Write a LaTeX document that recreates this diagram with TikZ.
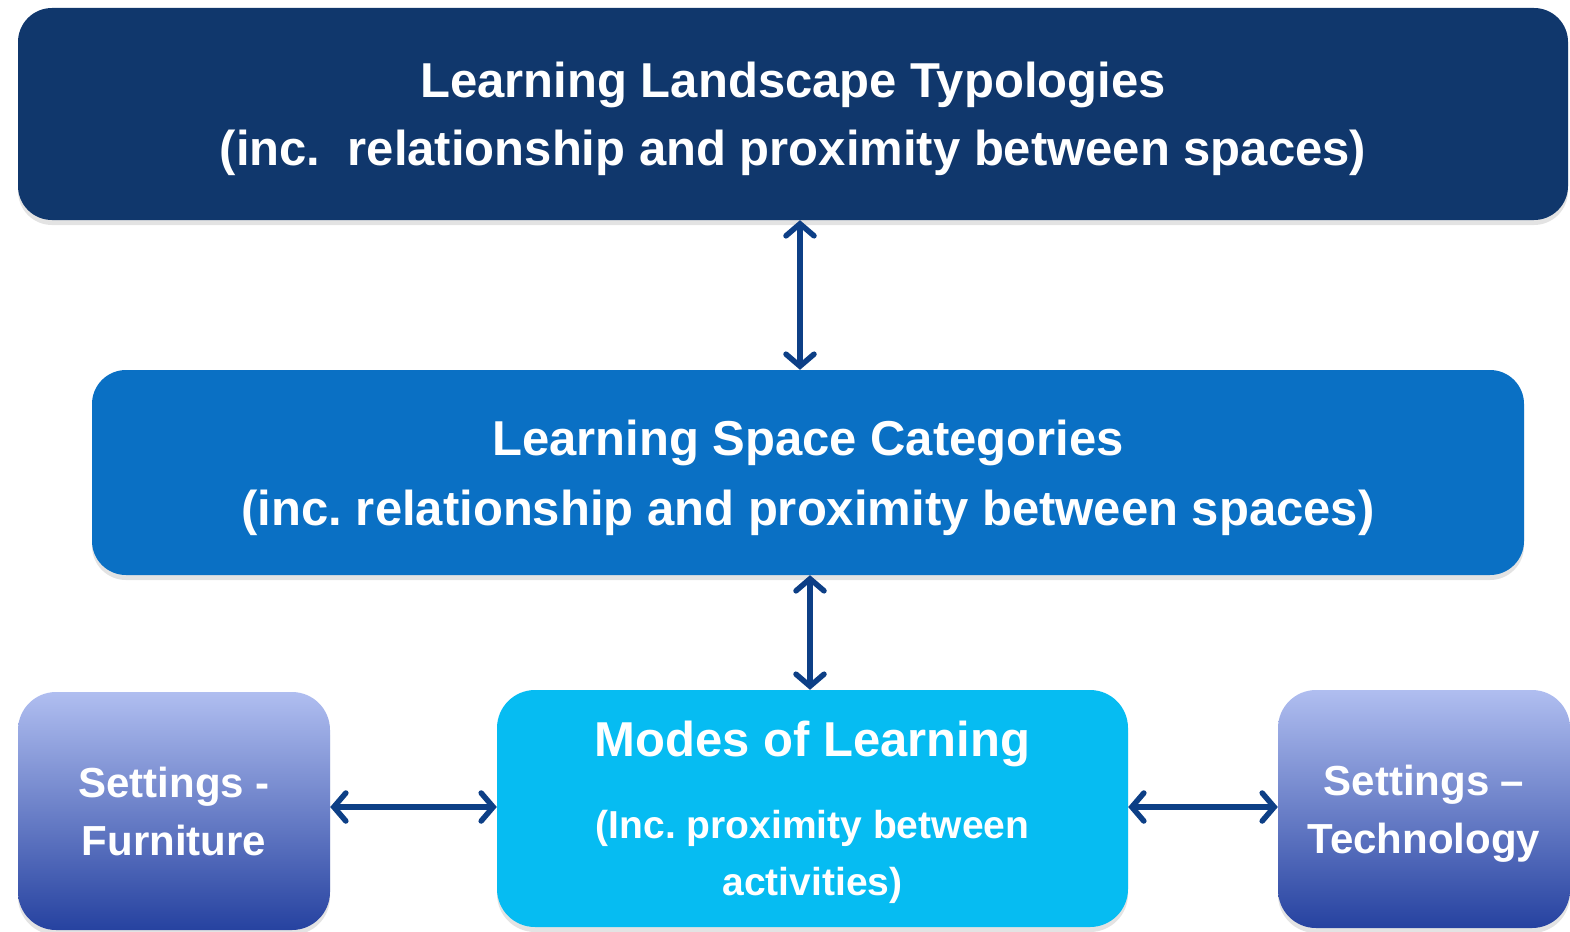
\documentclass[tikz,border=0pt]{standalone}
\usepackage{fontspec}
\setmainfont{Liberation Sans}
\usepackage{tikz}
\usetikzlibrary{arrows.meta}
\usetikzlibrary{shadows}
\frenchspacing

\definecolor{navy}{RGB}{16,55,108}
\definecolor{midblue}{RGB}{10,112,196}
\definecolor{cyanbox}{RGB}{6,188,242}
\definecolor{lavtop}{RGB}{176,190,240}
\definecolor{lavbot}{RGB}{38,66,160}
\definecolor{arrowblue}{RGB}{13,63,134}

\begin{document}
\begin{tikzpicture}[x=1pt,y=-1pt,
	box/.style={rectangle,rounded corners=34pt,align=center,text=white,inner sep=0pt,text depth=0pt,
		drop shadow={shadow xshift=0pt,shadow yshift=-5pt,opacity=0.22}},
	bigtext/.style={font=\fontsize{49}{68}\selectfont\bfseries},
	link/.style={{Straight Barb[length=12pt,width=28pt,line width=5.5pt,line cap=round]}-{Straight Barb[length=12pt,width=28pt,line width=5.5pt,line cap=round]},
		line width=5.5pt,arrowblue}
	]
	\useasboundingbox (0,0) rectangle (1570,931);

	\node [box,bigtext,fill=navy,minimum width=1550pt,minimum height=212pt] (typologies) at (793,114)
		{Learning Landscape Typologies\\(inc.~ relationship and proximity between spaces)};
	\node [box,bigtext,fill=midblue,minimum width=1432pt,minimum height=205pt,
		font=\fontsize{49}{70}\selectfont\bfseries] (categories) at (808,472.5)
		{Learning Space Categories\\(inc. relationship and proximity between spaces)};
	\node [box,fill=cyanbox,rounded corners=38pt,minimum width=631pt,minimum height=237pt,
		font=\fontsize{39}{57}\selectfont\bfseries] (modes) at (812.5,808.5)
		{\fontsize{49}{57}\selectfont Modes of Learning\\[25pt](Inc. proximity between\\activities)};
	\node [box,top color=lavtop,bottom color=lavbot,rounded corners=38pt,minimum width=312pt,
		minimum height=238pt,font=\fontsize{42}{58}\selectfont\bfseries] (furniture) at (174,811)
		{Settings -\\Furniture};
	\node [box,top color=lavtop,bottom color=lavbot,rounded corners=38pt,minimum width=292pt,
		minimum height=238pt,font=\fontsize{42}{58}\selectfont\bfseries] (technology) at (1424,809)
		{Settings --\\Technology};

	\draw [link] ([xshift=7pt]typologies.south) to ([xshift=-8pt]categories.north);
	\draw [link] ([xshift=2pt]categories.south) to ([xshift=-2.5pt]modes.north);
	\draw [link] ([yshift=4pt]furniture.east) to ([yshift=1.5pt]modes.west);
	\draw [link] ([yshift=1.5pt]modes.east) to ([yshift=2pt]technology.west);

\end{tikzpicture}
\end{document}
